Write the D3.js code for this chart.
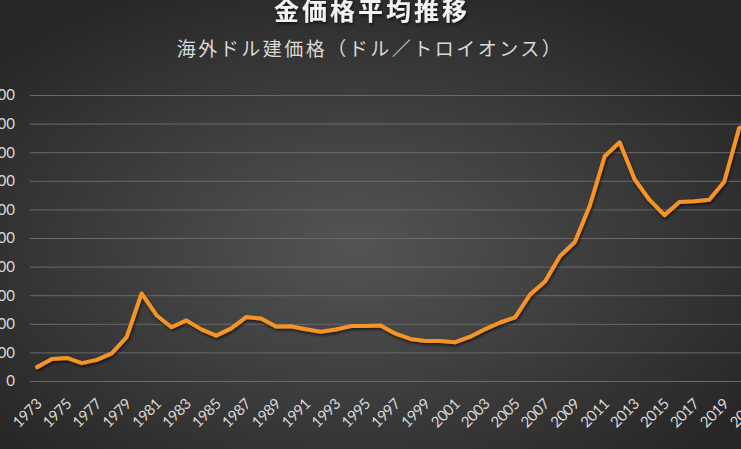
<!DOCTYPE html>
<html>
<head>
<meta charset="utf-8">
<script src="https://cdn.jsdelivr.net/npm/d3@7"></script>
<style>
  html, body { margin: 0; padding: 0; background: #333; overflow: hidden; }
  svg { display: block; }
</style>
</head>
<body>
<div id="chart"></div>
<script>
// annual average gold price, USD per troy ounce
const years = [1973, 1974, 1975, 1976, 1977, 1978, 1979, 1980, 1981, 1982,
  1983, 1984, 1985, 1986, 1987, 1988, 1989, 1990, 1991, 1992,
  1993, 1994, 1995, 1996, 1997, 1998, 1999, 2000, 2001, 2002,
  2003, 2004, 2005, 2006, 2007, 2008, 2009, 2010, 2011, 2012,
  2013, 2014, 2015, 2016, 2017, 2018, 2019, 2020, 2021];
const prices = [97, 154, 161, 125, 148, 193, 307, 612, 460, 376,
  424, 361, 317, 368, 447, 437, 381, 383, 362, 344,
  360, 384, 384, 388, 331, 294, 279, 279, 271, 310,
  363, 409, 445, 604, 695, 872, 972, 1225, 1572, 1669,
  1411, 1266, 1160, 1251, 1257, 1268, 1393, 1770, 1799];
const yTicks = [0, 200, 400, 600, 800, 1000, 1200, 1400, 1600, 1800, 2000];
const titleText = "金価格平均推移";
const subtitleText = "海外ドル建価格（ドル／トロイオンス）";

const width = 741;
const height = 449;

const svg = d3.select("#chart")
  .append("svg")
  .attr("width", width)
  .attr("height", height);

const defs = svg.append("defs");

const bg = defs.append("radialGradient")
  .attr("id", "bg")
  .attr("cx", "48%").attr("cy", "55%").attr("r", "65%");
bg.append("stop").attr("offset", "0%").attr("stop-color", "#545454");
bg.append("stop").attr("offset", "100%").attr("stop-color", "#262626");

const shadow = defs.append("filter")
  .attr("id", "shadow")
  .attr("x", "-10%").attr("y", "-10%").attr("width", "120%").attr("height", "120%");
shadow.append("feDropShadow")
  .attr("dx", 1).attr("dy", 2).attr("stdDeviation", 1.5)
  .attr("flood-color", "#000").attr("flood-opacity", 0.6);

svg.append("rect")
  .attr("width", width)
  .attr("height", height)
  .attr("fill", "url(#bg)");

const x = d3.scalePoint()
  .domain(years)
  .range([37, 37 + 14.94 * (years.length - 1)]);

const y = d3.scaleLinear()
  .domain([0, 2000])
  .range([381, 95]);

// gridlines
const yAxis = d3.axisLeft(y)
  .tickValues(yTicks)
  .tickSize(-(width - 30))
  .tickFormat(d3.format(","));

const yg = svg.append("g")
  .attr("transform", "translate(30,0)")
  .call(yAxis);
yg.select(".domain").remove();
yg.selectAll(".tick line")
  .attr("stroke", "#6a6a6a")
  .attr("stroke-width", 1);
yg.selectAll(".tick text")
  .attr("x", -15)
  .attr("fill", "#d9d9d9")
  .style("font-family", "Lato, 'Open Sans', sans-serif")
  .style("font-size", "15px");

// x axis labels, every other year
const xAxis = d3.axisBottom(x)
  .tickValues(years.filter(d => (d - 1973) % 2 === 0))
  .tickSize(0);

const xg = svg.append("g")
  .attr("transform", "translate(0,381)")
  .call(xAxis);
xg.select(".domain").remove();
xg.selectAll(".tick text")
  .attr("fill", "#d9d9d9")
  .attr("text-anchor", "end")
  .attr("x", 0)
  .attr("y", 0)
  .attr("dy", 0)
  .attr("transform", "translate(5,24) rotate(-45)")
  .style("font-family", "Lato, 'Open Sans', sans-serif")
  .style("font-size", "15px")
  .style("letter-spacing", "-0.4px");

// price line
const line = d3.line()
  .x((d, i) => x(years[i]))
  .y(d => y(d));

svg.append("path")
  .datum(prices)
  .attr("fill", "none")
  .attr("stroke", "#f59325")
  .attr("stroke-width", 4)
  .attr("stroke-linejoin", "round")
  .attr("stroke-linecap", "round")
  .attr("filter", "url(#shadow)")
  .attr("d", line);

// titles
svg.append("text")
  .attr("x", 372)
  .attr("y", 20)
  .attr("text-anchor", "middle")
  .attr("fill", "#f2f2f2")
  .attr("filter", "url(#shadow)")
  .style("font-family", "'Noto Sans CJK JP', sans-serif")
  .style("font-weight", "bold")
  .style("font-size", "25px")
  .style("letter-spacing", "3px")
  .text(titleText);

svg.append("text")
  .attr("x", 370)
  .attr("y", 56)
  .attr("text-anchor", "middle")
  .attr("fill", "#d9d9d9")
  .style("font-family", "'Noto Sans CJK JP', sans-serif")
  .style("font-size", "19px")
  .style("letter-spacing", "2.5px")
  .text(subtitleText);
</script>
</body>
</html>
